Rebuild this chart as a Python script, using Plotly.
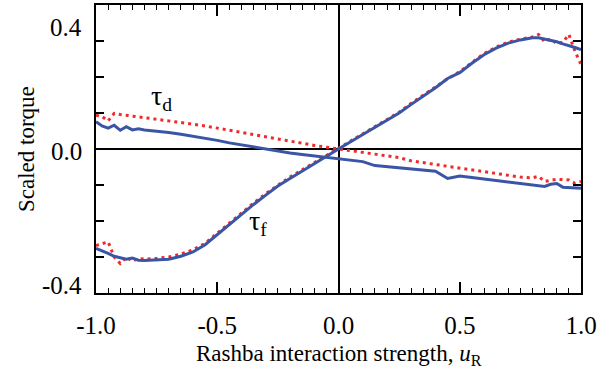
import plotly.graph_objects as go

# Rashba interaction strength u_R
u_R = [-1.0, -0.975, -0.95, -0.925, -0.9, -0.875, -0.85, -0.825, -0.8,
       -0.75, -0.7, -0.65, -0.6, -0.55, -0.5, -0.45, -0.4, -0.35, -0.3,
       -0.25, -0.2, -0.15, -0.1, -0.05, 0.0, 0.05, 0.1, 0.15, 0.2, 0.25,
       0.3, 0.35, 0.4, 0.45, 0.5, 0.55, 0.6, 0.65, 0.7, 0.75,
       0.8, 0.825, 0.85, 0.875, 0.9, 0.925, 0.95, 0.975, 1.0]

# field-like torque tau_f
tau_f_solid = [-0.276, -0.282, -0.290, -0.298, -0.302, -0.306, -0.303, -0.309, -0.310,
               -0.309, -0.306, -0.298, -0.286, -0.266, -0.238, -0.208, -0.180, -0.154, -0.128,
               -0.103, -0.082, -0.061, -0.041, -0.020, 0.0, 0.020, 0.040, 0.060, 0.080, 0.100,
               0.124, 0.147, 0.170, 0.196, 0.212, 0.238, 0.262, 0.280, 0.294, 0.303,
               0.309, 0.309, 0.306, 0.303, 0.298, 0.292, 0.288, 0.282, 0.276]
tau_f_dotted = [-0.268, -0.262, -0.258, -0.300, -0.318, -0.300, -0.312, -0.304, -0.306,
                -0.304, -0.300, -0.292, -0.280, -0.262, -0.234, -0.204, -0.176, -0.150, -0.124,
                -0.100, -0.078, -0.058, -0.038, -0.018, 0.002, 0.022, 0.042, 0.062, 0.082, 0.102,
                0.127, 0.150, 0.173, 0.195, 0.215, 0.241, 0.265, 0.283, 0.297, 0.305,
                0.311, 0.318, 0.298, 0.306, 0.293, 0.296, 0.318, 0.272, 0.235]

# damping-like torque tau_d
tau_d_solid = [0.076, 0.064, 0.058, 0.066, 0.052, 0.062, 0.053, 0.056, 0.053,
               0.050, 0.046, 0.041, 0.036, 0.030, 0.024, 0.017, 0.011, 0.005, -0.001,
               -0.006, -0.011, -0.015, -0.019, -0.023, -0.026, -0.030, -0.035, -0.046, -0.049, -0.052,
               -0.056, -0.060, -0.062, -0.082, -0.075, -0.079, -0.083, -0.088, -0.093, -0.097,
               -0.101, -0.103, -0.104, -0.098, -0.096, -0.106, -0.107, -0.108, -0.109]
tau_d_dotted = [0.094, 0.090, 0.078, 0.099, 0.096, 0.093, 0.091, 0.089, 0.087,
                0.083, 0.079, 0.074, 0.069, 0.064, 0.058, 0.052, 0.044, 0.038, 0.032,
                0.026, 0.021, 0.016, 0.010, 0.005, 0.0, -0.005, -0.010, -0.015, -0.019, -0.024,
                -0.033, -0.039, -0.043, -0.048, -0.053, -0.058, -0.064, -0.069, -0.074, -0.078,
                -0.080, -0.076, -0.090, -0.087, -0.084, -0.085, -0.086, -0.095, -0.090]

y_tick_vals = [0.4, 0.0, -0.4]
y_tick_text = ["0.4", "0.0", "-0.4"]
x_tick_vals = [-1.0, -0.5, 0.0, 0.5, 1.0]
x_tick_text = ["-1.0", "-0.5", "0.0", "0.5", "1.0"]

BLUE = "#3a55a6"
RED = "#ee2a2a"
FONT = "Liberation Serif, Times New Roman, Times, Tinos, Noto Serif, DejaVu Serif, serif"

fig = go.Figure()
fig.add_trace(go.Scatter(x=u_R, y=tau_d_dotted, mode="lines",
                         line=dict(color=RED, width=3, dash="3px,4px")))
fig.add_trace(go.Scatter(x=u_R, y=tau_f_dotted, mode="lines",
                         line=dict(color=RED, width=3, dash="3px,4px")))
fig.add_trace(go.Scatter(x=u_R, y=tau_d_solid, mode="lines",
                         line=dict(color=BLUE, width=3)))
fig.add_trace(go.Scatter(x=u_R, y=tau_f_solid, mode="lines",
                         line=dict(color=BLUE, width=3)))

fig.update_layout(
    template="none",
    width=609, height=375,
    margin=dict(l=96, r=28, t=5, b=82),
    paper_bgcolor="white", plot_bgcolor="white",
    showlegend=False,
    font=dict(family=FONT, color="black", size=25),
)

fig.update_xaxes(
    range=[-1.0, 1.0],
    tickvals=x_tick_vals, ticktext=x_tick_text,
    ticks="inside", ticklen=11, tickwidth=1.5, tickcolor="black",
    minor=dict(dtick=0.05, ticks="inside", ticklen=5, tickwidth=1.2, tickcolor="black", showgrid=False),
    showline=True, linewidth=2, linecolor="black", mirror="ticks",
    showgrid=False,
    zeroline=True, zerolinecolor="black", zerolinewidth=1.5,
    tickfont=dict(family=FONT, size=25, color="black"),
    ticklabelstandoff=9,
)
fig.update_yaxes(
    range=[-0.4, 0.4],
    dtick=0.1, tick0=0,
    ticks="inside", ticklen=8, tickwidth=1.5, tickcolor="black",
    showticklabels=False,
    showline=True, linewidth=2, linecolor="black", mirror="ticks",
    showgrid=False,
    zeroline=True, zerolinecolor="black", zerolinewidth=1.5,
)

# x axis title
fig.add_annotation(x=0.5, xref="paper", y=0, yref="paper",
                   text="Rashba interaction strength, <i>u</i><sub>R</sub>",
                   showarrow=False, xanchor="center", yanchor="middle", yshift=-62,
                   font=dict(family=FONT, size=23, color="black"))

# y tick labels (placed as in the original figure)
y_shifts = [-22, -2, 8]
for v, t, s in zip(y_tick_vals, y_tick_text, y_shifts):
    fig.add_annotation(x=0, xref="paper", y=v, yref="y", text=t, showarrow=False,
                       xanchor="right", yanchor="middle", xshift=-12, yshift=s,
                       font=dict(family=FONT, size=25, color="black"))

# y axis title
fig.add_annotation(x=0, xref="paper", y=0.5, yref="paper", text="Scaled torque",
                   textangle=-90, showarrow=False, xanchor="center", yanchor="middle",
                   xshift=-70, font=dict(family=FONT, size=23, color="black"))

# curve labels
fig.add_annotation(x=-0.73, y=0.142, text="τ<sub>d</sub>", showarrow=False,
                   xanchor="center", yanchor="middle", font=dict(family=FONT, size=28, color="black"))
fig.add_annotation(x=-0.33, y=-0.204, text="τ<sub>f</sub>", showarrow=False,
                   xanchor="center", yanchor="middle", font=dict(family=FONT, size=28, color="black"))

fig.write_html("out.html")
